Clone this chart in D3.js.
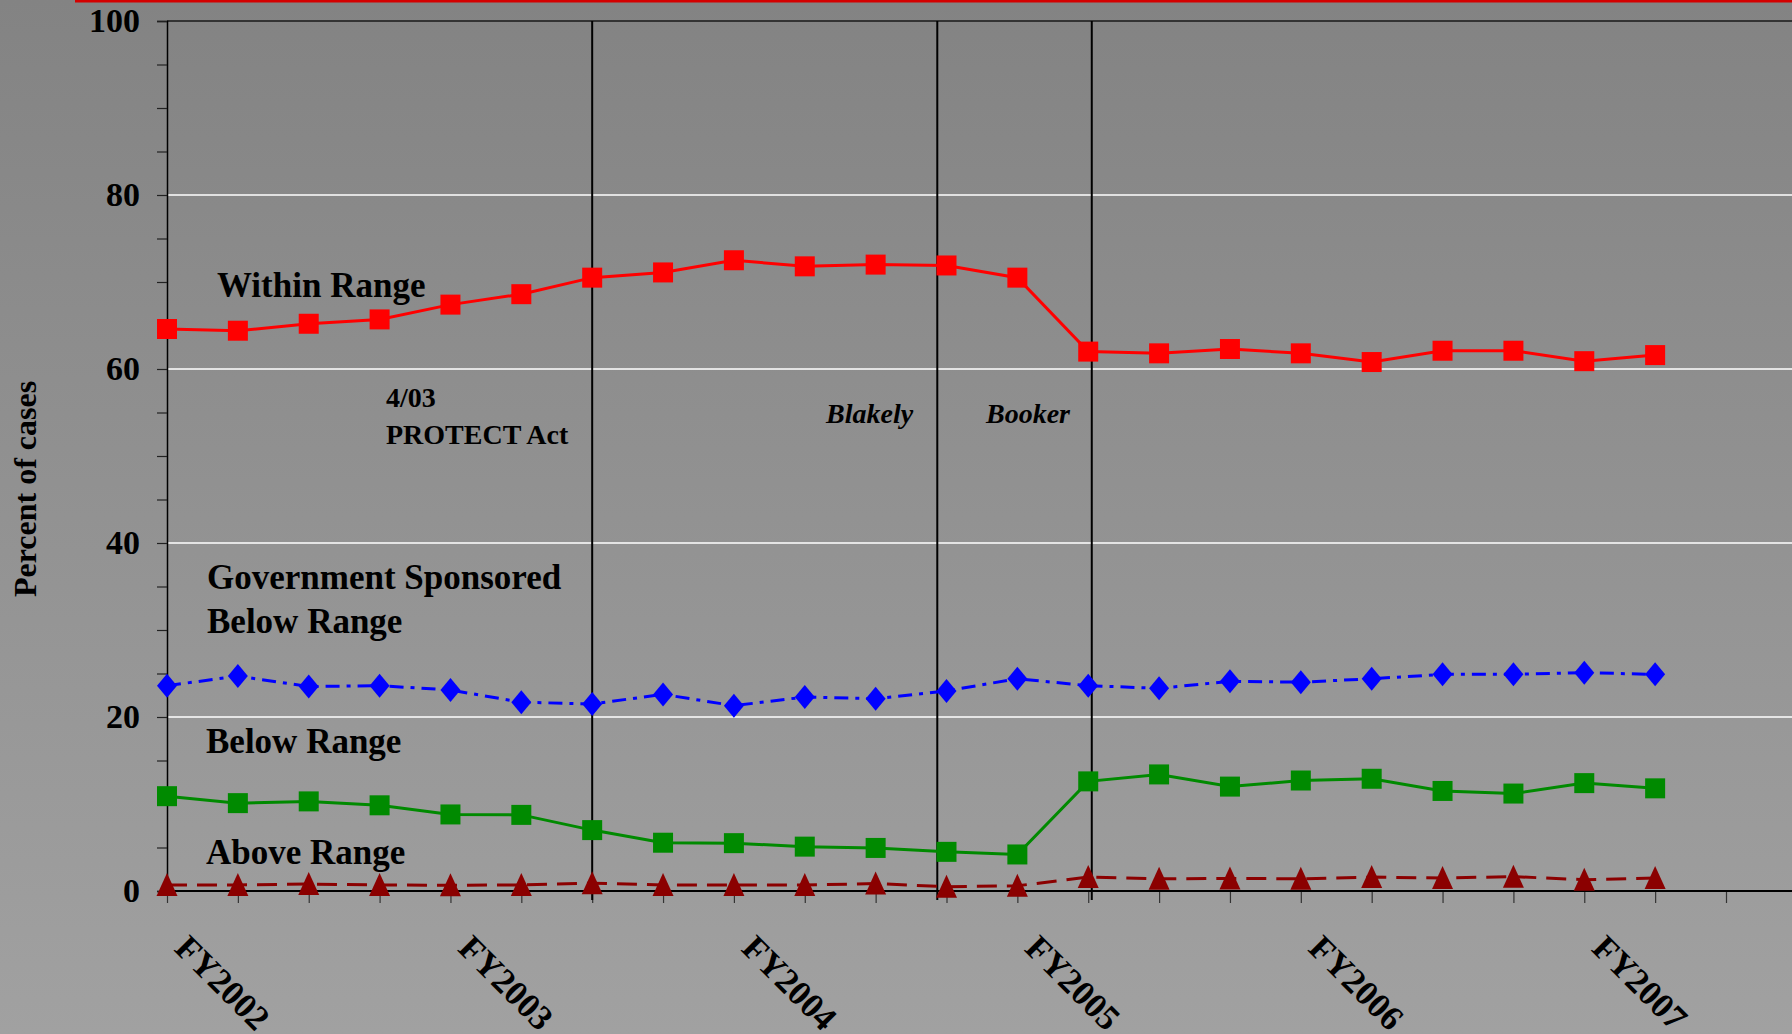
<!DOCTYPE html>
<html><head><meta charset="utf-8">
<script src="https://cdn.jsdelivr.net/npm/d3@7"></script>
<style>html,body{margin:0;padding:0;overflow:hidden;background:#8f8f8f}</style>
</head><body><svg id="c" width="1792" height="1034"></svg>
<script>
// ---- data ----
const categories = [
  "FY2002 Q1","FY2002 Q2","FY2002 Q3","FY2002 Q4",
  "FY2003 Q1","FY2003 Q2","FY2003 Q3","FY2003 Q4",
  "FY2004 Q1","FY2004 Q2","FY2004 Q3","FY2004 Q4",
  "FY2005 Q1","FY2005 Q2","FY2005 Q3","FY2005 Q4",
  "FY2006 Q1","FY2006 Q2","FY2006 Q3","FY2006 Q4",
  "FY2007 Q1","FY2007 Q2"
];
const withinRange = [64.6,64.4,65.2,65.7,67.4,68.6,70.5,71.1,72.5,71.8,72.0,71.9,70.5,62.0,61.8,62.3,61.8,60.8,62.1,62.1,60.9,61.6];
const govSponsoredBelow = [23.6,24.7,23.5,23.6,23.1,21.7,21.5,22.6,21.3,22.3,22.1,23.0,24.4,23.6,23.3,24.1,24.0,24.4,24.9,24.9,25.1,24.9];
const belowRange = [10.9,10.1,10.3,9.85,8.8,8.75,7.0,5.55,5.5,5.1,4.95,4.5,4.2,12.6,13.4,12.0,12.7,12.9,11.5,11.2,12.4,11.8];
const aboveRange = [0.7,0.7,0.8,0.7,0.65,0.7,0.9,0.7,0.7,0.7,0.85,0.5,0.6,1.6,1.4,1.45,1.4,1.6,1.5,1.65,1.3,1.5];
const yTickLabels = [0,20,40,60,80,100];
const fyLabels = ["FY2002","FY2003","FY2004","FY2005","FY2006","FY2007"];
// event lines, in quarter-index units along the x axis
const eventNames = ["4/03 PROTECT Act","Blakely","Booker"];
const eventAt = [6, 10.87, 13.05];

// ---- layout ----
const W = 1792, H = 1034;
const svg = d3.select("#c");
const FONT = "'Liberation Serif','Times New Roman',serif";

const x = d3.scaleLinear().domain([0, categories.length]).range([167, 1726]);
const y = d3.scaleLinear().domain([0, 100]).range([891, 21]);

// background gradient
const defs = svg.append("defs");
const g0 = defs.append("linearGradient").attr("id","bg").attr("x1",0).attr("y1",0).attr("x2",0).attr("y2",1);
g0.append("stop").attr("offset","0%").attr("stop-color","#838383");
g0.append("stop").attr("offset","100%").attr("stop-color","#a1a1a1");
svg.append("rect").attr("width",W).attr("height",H).attr("fill","url(#bg)");

// top red rule
svg.append("rect").attr("x",75).attr("y",0).attr("width",W-75).attr("height",2.5).attr("fill","#d40000");

// gridlines
svg.append("g").selectAll("line").data(yTickLabels.filter(v => v > 0 && v < 100)).join("line")
  .attr("x1", x(0)).attr("x2", W).attr("y1", d => y(d)).attr("y2", d => y(d))
  .attr("stroke","#ffffff").attr("stroke-width",1.5);
// top border
svg.append("line").attr("x1",x(0)).attr("x2",W).attr("y1",y(100)).attr("y2",y(100))
  .attr("stroke","#333").attr("stroke-width",2);

// y axis
const yAxis = d3.axisLeft(y).tickValues(d3.range(0,101,5)).tickSize(10).tickPadding(17)
  .tickFormat(d => yTickLabels.includes(d) ? d : "");
const ya = svg.append("g").attr("transform",`translate(${x(0)},0)`).call(yAxis);
ya.select(".domain").attr("stroke","#000").attr("stroke-width",1.5);
ya.selectAll(".tick line").attr("stroke","#222").attr("stroke-width",1.2);
ya.selectAll("text").attr("font-family",FONT).attr("font-weight","bold").attr("font-size",34).attr("fill","#000");

// x axis
const xAxis = d3.axisBottom(x).tickValues(d3.range(categories.length + 1)).tickSize(12).tickFormat("");
const xa = svg.append("g").attr("transform",`translate(0,${y(0)})`).call(xAxis);
xa.select(".domain").remove();
xa.selectAll(".tick line").attr("stroke","#333").attr("stroke-width",1.2);
svg.append("line").attr("x1",x(0)).attr("x2",W).attr("y1",y(0)).attr("y2",y(0))
  .attr("stroke","#000").attr("stroke-width",2);

// FY labels (at Q1 of each year)
const fyIdx = categories.map((c,i)=>[c,i]).filter(([c]) => c.endsWith("Q1"));
svg.append("g").selectAll("text").data(fyIdx).join("text")
  .attr("transform", ([c,i]) => `translate(${x(i)+6},950) rotate(45)`)
  .attr("font-family",FONT).attr("font-weight","bold").attr("font-size",35).attr("fill","#000")
  .text(([c]) => fyLabels.find(f => c.startsWith(f)));

// y axis title
svg.append("text").attr("transform","translate(36,489) rotate(-90)")
  .attr("text-anchor","middle").attr("font-family",FONT).attr("font-weight","bold")
  .attr("font-size",32).attr("fill","#000").text("Percent of cases");

// event lines
svg.append("g").selectAll("line").data(eventAt).join("line")
  .attr("x1", d => x(d)).attr("x2", d => x(d)).attr("y1", y(100)).attr("y2", y(0) + 9)
  .attr("stroke","#000").attr("stroke-width",2);

// series
const line = d3.line().x((d,i) => x(i)).y(d => y(d));
function drawSeries(data, color, dash, marker) {
  svg.append("path").datum(data).attr("d", line).attr("fill","none")
    .attr("stroke", color).attr("stroke-width", 3).attr("stroke-dasharray", dash);
  svg.append("g").selectAll("path").data(data).join("path")
    .attr("transform", (d,i) => `translate(${x(i)},${y(d)})`)
    .attr("d", marker).attr("fill", color);
}
const square = "M-10,-10H10V10H-10Z";
const diamond = "M0,-12L10,0L0,12L-10,0Z";
const triangle = "M0,-12L10.5,11H-10.5Z";
drawSeries(aboveRange, "#8b0000", "20,10", triangle);
drawSeries(belowRange, "#008a00", null, square);
drawSeries(govSponsoredBelow, "#0000ff", "14,7,4,7", diamond);
drawSeries(withinRange, "#ff0000", null, square);

// annotations
function label(lines, xPos, yBase, size, italic, lh) {
  const t = svg.append("text").attr("font-family",FONT).attr("font-weight","bold")
    .attr("font-size",size).attr("font-style", italic ? "italic" : "normal").attr("fill","#000");
  lines.forEach((s,k) => t.append("tspan").attr("x",xPos).attr("y",yBase + k*lh).text(s));
}
label(["Within Range"], 217, 297, 35, false, 0);
label(["4/03","PROTECT Act"], 386, 407, 28, false, 36.6);
label([eventNames[1]], 826, 423, 28, true, 0);
label([eventNames[2]], 986, 423, 28, true, 0);
label(["Government Sponsored","Below Range"], 207, 589, 35, false, 44);
label(["Below Range"], 206, 753, 35, false, 0);
label(["Above Range"], 206, 864, 35, false, 0);
</script></body></html>
